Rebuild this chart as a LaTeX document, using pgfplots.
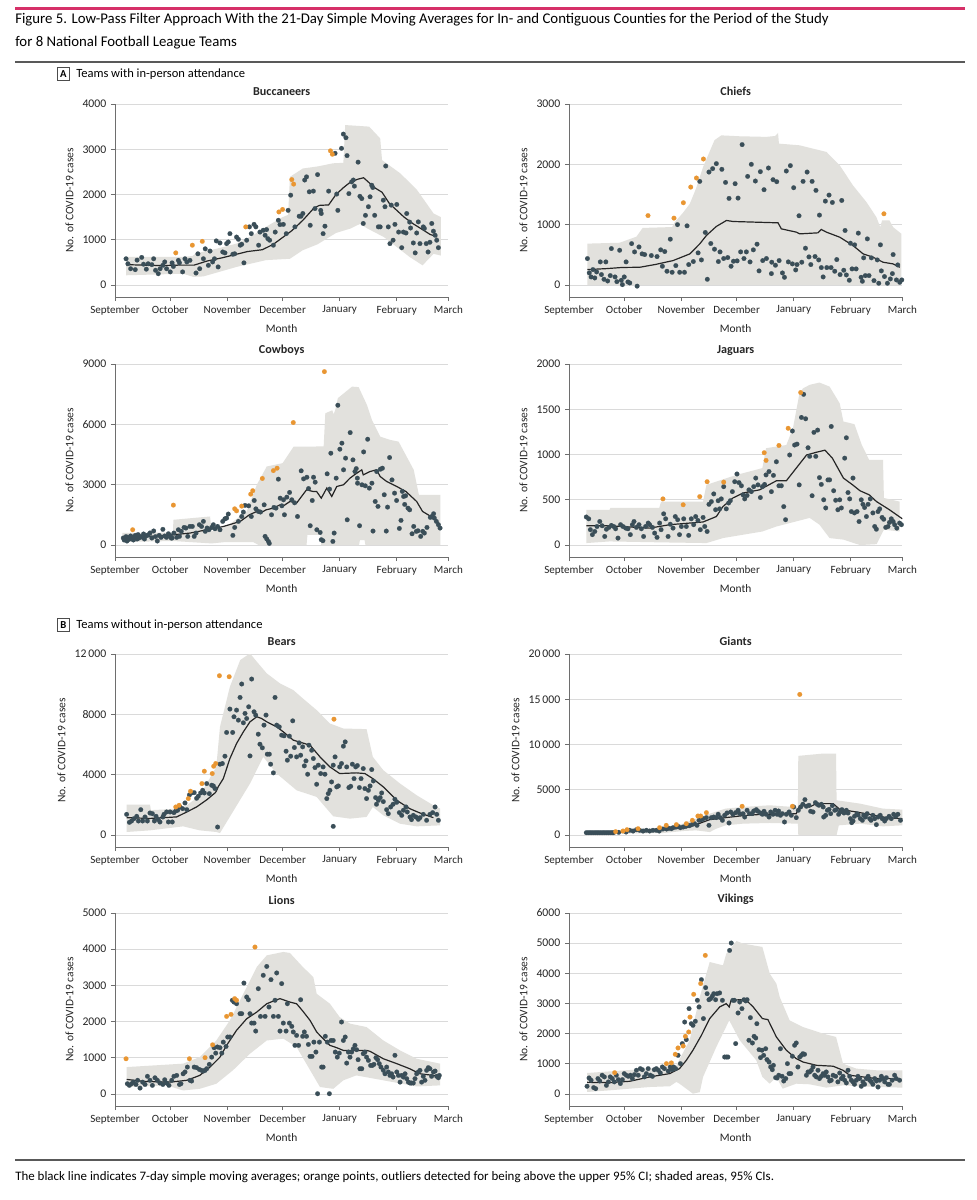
\documentclass[border=0pt]{standalone}
\usepackage{fontspec}
\setmainfont{Carlito}
\usepackage{pgfplots}
\pgfplotsset{compat=1.18}
\definecolor{pinkbar}{RGB}{214,48,104}
\definecolor{dotc}{RGB}{58,78,88}
\definecolor{orng}{RGB}{233,150,50}
\definecolor{shade}{RGB}{226,225,221}
\definecolor{gridc}{RGB}{218,218,218}
\definecolor{axc}{RGB}{110,110,110}
\newcommand\tk{\fontsize{8.3}{10}\selectfont}
\pgfplotsset{
 panel/.style={
   scale only axis, width=250pt, height=144.75pt,
   xmin=0, xmax=181,
   xtick={0,30,61,91,122,153,181},
   xticklabels={September,October,November,December,January,February,March},
   axis x line*=bottom, axis y line*=left,
   axis line style={axc, line width=0.7pt},
   ymajorgrids, grid style={gridc, line width=0.6pt},
   tick align=outside, major tick length=3pt,
   tick style={axc, line width=0.6pt},
   ticklabel style={font=\tk, text=black!85},
   yticklabel style={font=\fontsize{8.8}{10}\selectfont},
   scaled y ticks=false,
   xlabel=Month, ylabel={No. of COVID-19 cases},
   label style={font=\fontsize{8.6}{10}\selectfont, text=black!85},
   title style={font=\fontsize{9.1}{10}\selectfont\bfseries, text=black!85, yshift=-3pt},
   anchor=south west,
 },
 dots/.style={only marks, mark=*, mark size=1.75pt, color=dotc, mark options={fill=dotc, draw=dotc, line width=0.1pt}},
 odots/.style={only marks, mark=*, mark size=1.75pt, color=orng, mark options={fill=orng, draw=orng, line width=0.1pt}},
 ma/.style={no marks, line width=0.9pt, color=black!85},
 band/.style={fill=shade, draw=none, no marks},
}
\begin{document}
\begin{tikzpicture}
\useasboundingbox (0,0) rectangle (732pt,-900pt);
\fill[white] (0,0) rectangle (732pt,-900pt);
% header
\draw[pinkbar, line width=2.25pt] (11.25pt,-6pt) -- (723.75pt,-6pt);
\node[anchor=base west, inner sep=0, font=\fontsize{11.1}{13}\selectfont] at (11.25pt,-17.5pt) {Figure 5. Low-Pass Filter Approach With the 21-Day Simple Moving Averages for In- and Contiguous Counties for the Period of the Study};
\node[anchor=base west, inner sep=0, font=\fontsize{11.1}{13}\selectfont] at (11.25pt,-34.5pt) {for 8 National Football League Teams};
\draw[black!65, line width=1pt] (11.25pt,-46.5pt) -- (723.75pt,-46.5pt);
% section labels
\node[draw=black!70, line width=0.5pt, minimum size=9.5pt, inner sep=0, font=\fontsize{8}{9}\selectfont\bfseries] at (47.6pt,-55.5pt) {A};
\node[anchor=west, inner sep=0, font=\fontsize{9.4}{10}\selectfont] at (57pt,-55.5pt) {Teams with in-person attendance};
\node[draw=black!70, line width=0.5pt, minimum size=9.5pt, inner sep=0, font=\fontsize{8}{9}\selectfont\bfseries] at (47.6pt,-468.75pt) {B};
\node[anchor=west, inner sep=0, font=\fontsize{9.4}{10}\selectfont] at (57pt,-468.75pt) {Teams without in-person attendance};
% footer
\draw[black!65, line width=1pt] (11.25pt,-870pt) -- (723.75pt,-870pt);
\node[anchor=base west, inner sep=0, font=\fontsize{9.7}{11}\selectfont] at (11.25pt,-885pt) {The black line indicates 7-day simple moving averages; orange points, outliers detected for being above the upper 95\% CI; shaded areas, 95\% CIs.};

% ---------------- Buccaneers
\begin{axis}[panel, at={(86.25pt,-222.75pt)}, title=Buccaneers,
  ymin=-265, ymax=4000, ytick={0,1000,2000,3000,4000}, yticklabels={0,1000,2000,3000,4000}]
\addplot[band] coordinates {(6,620) (20,620) (37,620) (42,640) (44,700) (55,800) (66,915) (75,1100) (82,1285) (91,1500) (94,1550) (95,2390) (102,2575) (110,2620) (118.5,2690) (124,2700) (125,3535) (138,3500) (144,3240) (145,2760) (155,2465) (164,2100) (173,1580) (177,1500)
 (177,650) (173,690) (167,435) (160,620) (146,1060) (137,1250) (133,1350) (128,1250) (120,1150) (110,900) (102,770) (95,580) (82,550) (66,400) (48,190) (42.5,180) (37,250) (20,230) (6,215)};
\addplot[dots] coordinates {(6,580) (7,470) (8.5,360) (11,340) (12,550) (14.5,610) (15.5,460) (17,350) (18,470) (20,450) (21,580) (22,325) (23.5,250) (24.5,360) (26,435) (27,510) (28,360) (30,290) (31,490) (31.7,410) (34.4,545) (35,490) (36.7,290) (38,580) (39,510) (40.7,545) (44,265) (45,690) (46,360) (48,580) (49,800) (50.7,435) (51.6,750) (53,510) (54,580) (55,975) (56,400) (57,930) (58.5,730) (59.7,710) (60.6,915) (61.5,950) (62.4,1135) (64,680) (65,690) (66,1060) (67,1010) (68,880) (68.8,900) (70,490) (71.5,990) (73,1285) (74,1135) (75.5,1340) (76.5,1285) (78,880) (78.7,1170) (80.5,1210) (81.5,1100) (82.3,1225) (83,1025) (84,990) (86,880) (87,1170) (88.7,1430) (89.6,1335) (91.4,1340) (93,1135) (94,1650) (95.4,1985) (97.7,1285) (100,1520) (101,1520) (102,1580) (103,2320) (104,2390) (105.5,2060) (106,1320) (107.7,2075) (108.6,1690) (110,2440) (111.7,1650) (112,1580) (113,1135) (114,1300) (116,2075) (119.5,2910) (120.4,2010) (121,1650) (123,3020) (124,3335) (125.4,3255) (126,2860) (127,2020) (128.5,2280) (129.4,2320) (130,2185) (132,2715) (133,1960) (134,1910) (134.8,1360) (136,1540) (137.6,1730) (138.5,1950) (139.4,2205) (140,2155) (141,1540) (143,1285) (144,1285) (145.7,1875) (146.6,1730) (147,2630) (148.4,1285) (149.3,915) (150,1765) (151,990) (152,1340) (153,1780) (154,1170) (155.7,825) (156.6,1170) (158,1150) (158.4,1580) (160,1390) (160.5,1260) (162,930) (163,710) (163.8,1150) (164.7,1395) (165.6,915) (167.4,1285) (168,1250) (169,915) (170,730) (171,945) (172,1360) (172.9,1190) (173.8,1100) (174.7,990) (175.6,825)};
\addplot[odots] coordinates {(33,710) (42,880) (47.4,965) (71,1285) (89,1615) (91,1670) (96,2330) (97,2230) (117,2965) (118,2890)};
\addplot[ma] coordinates {(6,450) (15,440) (25,430) (35,440) (43,440) (50,530) (58,600) (66,680) (72,740) (80,780) (86,900) (91,1050) (96,1200) (102,1430) (108,1700) (111,1760) (116,1770) (120,2000) (124,2150) (128,2280) (132,2340) (135,2370) (138,2260) (141,2150) (145,2050) (149,1800) (153,1650) (157,1500) (162,1350) (166,1250) (171,1120) (175,1060)};
\end{axis}

% ---------------- Chiefs
\begin{axis}[panel, at={(426.75pt,-222.75pt)}, title=Chiefs,
  ymin=-200, ymax=3000, ytick={0,1000,2000,3000}, yticklabels={0,1000,2000,3000}]
\addplot[band] coordinates {(10,685) (27.5,700) (36.6,800) (40,945) (56,960) (57.4,1040) (62,1200) (65.6,1346) (69,1600) (72.8,1955) (79,2400) (82.7,2480) (92.7,2465) (107.2,2455) (112,2470) (113.5,2520) (114,2343) (125.3,2315) (132.5,2260) (139.8,2205) (147,1983) (154.2,1650) (161.5,1374) (166.9,1125) (169,958) (170,1070) (174,1070) (176,958) (180.5,848) (180.5,0) (10,0)};
\addplot[dots] coordinates {(10,437) (11,200) (12,133) (13,255) (14,116) (15,216) (17,382) (17.6,172) (19,94) (20,382) (21,66) (22.4,155) (23,603) (25,133) (26,55) (27.5,575) (28.4,77) (29,5) (30,133) (31,382) (32,50) (33,33) (34,685) (35.6,548) (37,-20) (38,630)
 (39.7,515) (41.1,504) (44.7,488) (47.8,471) (49.8,582) (52,554) (55,759) (50.7,310) (53.2,227) (56,210) (58,321) (60.1,210) (62.7,210) (65,338) (67.5,388) (70.1,532) (71.9,415) (75.1,94) (77,687) (79,593) (81.1,388) (82,548) (84,438) (86.2,454) (88,310) (89.3,393) (91.3,399) (93.2,548) (95,438) (96.3,548) (98.3,382) (100.1,582) (102.1,676) (103.2,233) (105.2,404) (107.2,438) (109.9,188) (110.1,377) (112.1,327) (114.1,404) (115.9,199) (117,127) (119.1,382) (121.3,349) (123.1,249) (123.8,338) (126.4,377) (128.4,609) (130.3,465) (131.3,338) (133.6,471) (135.6,415) (137,288) (138,133) (140,288) (142.3,288) (144.3,227) (145.4,421) (147.2,172) (149.2,244) (150.6,166) (152.2,78) (152.8,692) (153.7,266) (155.1,665) (155.9,266) (158.6,127) (159.3,61) (160,449) (160.9,155) (162.9,155) (164.2,449) (165.6,72) (167.4,415) (168.2,28) (169.6,233) (171.3,139) (172.9,28) (174.5,100) (175.6,188) (177.8,83) (178.5,332) (179.6,44) (180.7,83)
 (58.9,1000) (64.1,980) (71,1717) (74,870) (76,1872) (78,1928) (80,2011) (83,1917) (85,1700) (86.9,1435) (90.2,1679) (91.8,1440) (94,2327) (97,1800) (99,2000) (101.2,1723) (103.9,1878) (105.9,1579) (108.3,1939) (110.8,1745) (112.8,1712) (118,1889) (120.2,1978) (122,1612) (124.9,1147) (127.1,1717) (129.3,1872) (132,1717) (134.1,1568) (136,1158) (139.2,1390) (141.2,1490) (143,1368) (148.1,1401) (149.9,903) (157.1,859) (162,764) (169.1,665) (176,504)};
\addplot[odots] coordinates {(42.9,1150) (57,1108) (62.1,1363) (66.1,1623) (69.2,1773) (73,2088) (171,1180)};
\addplot[ma] coordinates {(10,255) (20,270) (29,290) (38.4,293) (47,340) (56.5,404) (65.6,515) (71,681) (74.6,820) (80,970) (85.5,1069) (89.1,1052) (113.5,1030) (115.3,930) (123.5,875) (125.3,847) (135.2,864) (137,920) (139.8,875) (147,792) (154.2,654) (159.7,515) (165.1,460) (170.5,377) (176,349) (179.6,293)};
\end{axis}

% ---------------- Cowboys
\begin{axis}[panel, at={(86.25pt,-417.75pt)}, title=Cowboys,
  ymin=-595, ymax=9000, ytick={0,3000,6000,9000}, yticklabels={0,3000,6000,9000}]
\addplot[band] coordinates {(4,600) (31.5,620) (31.7,1255) (51.6,1420) (52.5,680) (60.6,925) (71.5,1670) (77,2995) (82.4,3905) (91,4070) (97,4895) (113.3,4900) (114.2,6550) (118,6700) (118.7,6500) (119.6,6715) (121,7300) (128.7,7875) (132.3,7850) (136.8,6965) (139.5,6220) (144,5390) (149.5,5225) (154,5140) (162.2,3740) (165,2500) (176.7,2500)
 (176.7,0) (136,0) (135.5,250) (133,250) (132.5,0) (112,0) (111.5,500) (104.5,500) (104,0) (78,0) (75,150) (60,150) (52.5,80) (31.7,200) (4,150)};
\addplot[dots] coordinates {(4.5,350) (5,250) (5.5,300) (6,420) (6.5,200) (7,380) (7.5,280) (8,320) (8.5,450) (9,330) (10,250) (10.5,400) (11,480) (12,300) (12.5,520) (13,350) (14,420) (15,380) (15.5,550) (16,300) (17,460) (18,500) (19,600) (20,350) (21,700) (22,420) (23,200) (24,480) (25,380) (26,780) (27,450) (28,380) (29,560) (30,470) (30.5,350)
 (31,350) (32,595) (33.5,380) (34.4,760) (35,430) (36,680) (37.5,875) (38.5,845) (39.5,430) (40.7,925) (42,925) (43,430) (44,595) (45.8,1010) (47,925) (48,1175) (49,680) (50,845) (51,760) (52.5,875) (53.4,1010) (54.3,810) (55.7,925) (57,760) (58.5,1175) (59.7,1305)
 (60.6,1340) (61.5,1540) (64,480) (65,875) (67,1175) (68.8,1420) (69.7,1640) (70.6,1970) (72.6,1950) (74,1420) (75.6,2215) (76.5,1800) (77.8,1670) (79,1640) (81,2000) (81.5,430) (82.4,300) (83.3,180) (83.8,80) (85,1505) (86.3,1870) (87.4,1835) (88.7,3275)
 (89.7,2330) (90.6,1950) (91.5,2250) (92,1505) (93.3,2380) (94.8,2615) (96,2250) (97.5,2100) (99.1,1420) (101.1,3690) (102.4,3290) (104.2,3370) (105.1,2810) (106,960) (107.1,2215) (107.8,3370) (108.7,3125) (109.6,760) (111.4,625) (112,265) (112.9,215) (115.2,3540) (116.5,2780) (117.2,4565) (118.3,180) (119,595) (120.1,3325) (121,6950) (122.1,4765) (123.2,5065) (124.1,3740) (125.2,4320) (126.1,1255) (127.7,5590) (129.2,4235) (130.3,3655) (131,3800) (131.6,3325) (131.7,3075) (132.8,960) (134.1,2995) (135,4630) (135.9,2945) (137.2,5260) (138.1,2830) (139.5,3075) (140.1,695) (141.3,2165) (142.1,3655) (142.8,1920) (144.1,3770) (145.2,3820) (146.2,2500) (147.3,695) (148,1885) (149.1,4350) (150.4,3240) (151.8,2580) (152.9,2215) (154.4,825) (155.3,1225) (156,2665) (156.7,2415) (157.3,2020) (157.8,2450) (159.1,1835) (160,1750) (161.3,560) (162.2,925) (163.6,680) (164.5,710) (166,430) (167.1,680) (168,595) (169.4,875) (171.2,1375) (172.1,1420) (173,1555) (173.4,1340) (174.5,1175) (175.6,1010) (176.5,845)};
\addplot[odots] coordinates {(9.6,760) (31.7,1985) (65,1800) (66,1700) (68.8,1935) (73.7,2530) (74.8,2700) (80,3310) (86,3700) (88,3820) (96.8,6090) (113.7,8620)};
\addplot[ma] coordinates {(5,350) (19,430) (31.7,510) (40.7,595) (50,760) (59,925) (68,1175) (73,1505) (77,1670) (79,1590) (82,1750) (86,1835) (89.6,2000) (91,1920) (95,2165) (98.6,2085) (104,2745) (107.7,2660) (109.5,2660) (112,2330) (115,2830) (117.7,2415) (120.4,2910) (124,2995) (127.6,3325) (130,3490) (134,3740) (134.8,3490) (138.5,3655) (142,3740) (144,3405) (147.5,3160) (153,2910) (158,2660) (163.8,2165) (167,1670) (173,1340) (176.5,1010)};
\end{axis}

% ---------------- Jaguars
\begin{axis}[panel, at={(426.75pt,-417.75pt)}, title=Jaguars,
  ymin=-132, ymax=2000, ytick={0,500,1000,1500,2000}, yticklabels={0,500,1000,1500,2000}]
\addplot[band] coordinates {(9.4,390) (22,390) (22.5,410) (49,410) (50,480) (72.8,480) (74.6,665) (91,775) (105,850) (107,1070) (118,1105) (121.6,1290) (125,1660) (127,1730) (130.7,1770) (136,1795) (141.5,1750) (147,1565) (149,1365) (155,1335) (159,1105) (163,940) (170.5,940) (171,520) (179.5,480)
 (179.5,150) (171,170) (167,10) (158,0) (149,60) (141.5,77) (136,225) (130.7,300) (112.6,205) (105,150) (83.6,77) (74.6,22) (49,30) (22,40) (9.4,22)};
\addplot[dots] coordinates {(9.4,310) (10.7,290) (11.6,170) (12.7,115) (14,150) (15.2,205) (16.7,260) (18,213) (19.4,95) (20.3,175) (21.7,195) (23,217) (24.3,205) (25.3,180) (26.6,77) (28,225) (29.3,205) (30.8,187) (32,180) (33.3,115) (34.4,225) (35.3,260) (36.6,195) (38,225) (39.3,180) (40.5,95) (41.6,205) (43,243) (43.8,225) (45.3,195) (46.5,132) (47.8,85) (49.2,243) (50,170) (51.4,345) (52.5,290) (53.8,95) (55,230) (56.5,187) (57.7,315) (59,280) (60,115) (61,205) (62.3,290) (63.7,205) (65,107) (66.4,290) (67.7,225) (68.8,315) (70,272) (71.3,170) (72.8,305) (73.7,205) (75,150) (76,450) (77.3,480) (78.6,565) (79.6,390) (81,490) (81.8,400) (82.7,510) (84,645) (85.4,400) (86.7,465) (87.6,490) (88.7,590) (90,700) (91.2,785) (92.3,690) (93.6,655) (94.5,555) (95.4,510) (96.7,548) (97.7,610) (99,590) (100.3,645) (101.4,740) (102.6,665) (103.9,525) (105,645) (106.2,670) (107,775) (108.6,812) (109.9,590) (111,770) (112.6,920) (114,655) (115.3,655) (116.6,425) (117.6,280) (119.8,995) (121.3,1260) (122.5,1105) (123.8,1115) (125,665) (126.2,1410) (127.4,1665) (128.5,1395) (129.8,1075) (130.7,980) (132,545) (133,1245) (134,980) (135,1270) (136,745) (137,670) (138.3,500) (139.4,410) (140.6,720) (141.5,720) (142.4,1310) (143.7,600) (144.8,495) (146,390) (147,500) (147.9,410) (149.7,960) (150.6,1185) (151.5,580) (152.4,510) (153.3,370) (154.2,740) (155,355) (156.4,370) (157.5,260) (158.7,500) (159.6,450) (160.5,415) (161.5,315) (162.4,450) (163.6,510) (165,355) (166,205) (166.9,175) (167.8,370) (168.7,400) (170,305) (170.9,285) (172,195) (173.2,205) (174,250) (175,290) (176,260) (176.8,225) (178,187) (179.5,243) (180.5,225)};
\addplot[odots] coordinates {(51,510) (62,445) (71,535) (75,700) (84,695) (106,1020) (107,935) (114,1100) (119,1290) (125.8,1685)};
\addplot[ma] coordinates {(9.4,213) (22,213) (43.8,187) (54.7,225) (72.8,255) (80,315) (83.6,425) (89,520) (94.5,575) (103.5,610) (112.6,710) (118,710) (123.4,850) (129,995) (134.3,1025) (139,1048) (143,960) (149,740) (154,665) (158,600) (163,555) (167,480) (174,390) (181,290)};
\end{axis}

% ---------------- Bears
\begin{axis}[panel, at={(86.25pt,-635.25pt)}, title=Bears,
  ymin=-795, ymax=12000, ytick={0,4000,8000,12000}, yticklabels={0,4000,8000,12\,000}]
\addplot[band] coordinates {(6.3,2015) (19,2015) (19.5,1650) (28,1700) (37,1800) (46,2600) (55,4515) (57,7170) (62.4,9830) (68,11600) (73.3,12040) (77,11490) (82.4,10715) (89.6,10050) (96.8,9610) (102,9055) (109.5,8280) (116.7,7395) (124,7060) (136.6,7020) (140,5180) (145.7,4295) (154.8,3410) (163.8,2635) (172.9,1970) (176.5,1750)
 (176.5,640) (163.8,575) (154.8,750) (145.7,1305) (140,1860) (136.6,1200) (127.6,1085) (118.5,1240) (109.5,2525) (98.6,2965) (87.8,4075) (80.5,5180) (73.3,3410) (57,130) (55,200) (46,310) (37,575) (19,310) (6.3,200)};
\addplot[dots] coordinates {(6.3,1370) (7.8,840) (9,930) (10.3,1085) (11.8,1240) (12.7,930) (14,1680) (15,930) (16.3,1195) (17.6,930) (19,1460) (20.3,1415) (21.4,930) (22.3,1240) (23.5,1020) (24.4,865) (26,1195) (26.6,1370) (28,1530) (29,865) (29.9,1530) (31.1,865) (32,1485) (33,1595) (34,1640) (35.3,1860) (36.7,1750) (38,2125) (39,1680) (40.4,2655) (41.6,2790) (43,2810) (44.3,2435) (45.2,2570) (46.5,2790) (47.6,2965) (48.5,2790) (49.8,3410) (51.2,2745) (52.5,3300) (53.4,3255) (54.3,3080) (55.7,530) (57,4695) (58.3,4740) (59.7,5225) (60.6,6800) (62.4,8350) (63.9,6800) (64.6,7840) (66,8280) (67,7615) (67.9,9120) (68.8,10010) (69.7,7440) (70.6,8060) (71.5,7725) (72.6,8500) (73.3,5245) (74.2,10340) (75.5,8170) (76.4,7950) (77.8,6685) (78.7,6020) (80,5780) (80.9,7285) (82,7950) (82.7,5360) (83.8,5360) (84.5,4695) (86,4120) (86.9,9120) (87.8,7285) (89.2,7170) (90.5,6620) (91.8,6575) (92.9,5555) (93.6,4960) (94.7,6555) (95.4,5225) (96.5,7570) (97.4,5800) (98.6,5180) (100,6110) (100.8,5290) (101.9,5845) (102.8,4585) (103.7,4915) (104.6,4030) (105.3,5955) (106.8,5620) (107.7,5070) (108.6,4470) (109.5,3365) (110.4,4630) (111.7,4075) (113,4515) (114,4030) (115,2415) (115.8,2745) (116.7,2965) (117.6,3520) (118.5,4630) (119.5,5180) (118.5,575) (120.4,3190) (121.3,3255) (122,4515) (123,4740) (124,5890) (125,6175) (125.8,4515) (127,3145) (128,3230) (128.9,4695) (129.8,3740) (130.7,4515) (131.6,4605) (132.7,3145) (133.6,3740) (134.8,4405) (135.7,3080) (136.6,2415) (137.6,2965) (138.5,3255) (139.4,4340) (140.3,3585) (141.5,2480) (142,2040) (143,2300) (144,2480) (144.8,2790) (145.7,2215) (147.5,1680) (148.4,1415) (149.7,1860) (151,2040) (152,2370) (153,2170) (154.4,1485) (155.7,1305) (156.6,1640) (158,1860) (158.7,1530) (160.2,1195) (161,1020) (162,1305) (163.4,1195) (164.7,1040) (165.6,1150) (167.4,1370) (169.2,975) (171,1370) (172.5,1485) (173.8,1860) (174.7,1370) (175.6,975)};
\addplot[odots] coordinates {(33,1860) (34.8,1970) (39.8,2415) (41,2900) (47.2,3410) (48.5,4230) (52.8,4075) (53.6,4560) (54.7,4740) (56.7,10560) (62,10495) (118.9,7680)};
\addplot[ma] coordinates {(6.3,1150) (19,1100) (33.5,1200) (39,1530) (44.3,1860) (50,2350) (54.3,2790) (55,2900) (56,3190) (58.8,3740) (62.4,5070) (66,6065) (69.7,6840) (73.3,7505) (77,7840) (79.6,7725) (82.4,7505) (87.8,7170) (91.4,6840) (96.8,6290) (105.9,5955) (111.3,5180) (116.7,4515) (122,4075) (131,4120) (135.7,4075) (140,3740) (145.7,3190) (153,2300) (160,1750) (165.6,1460) (172.9,1150)};
\end{axis}

% ---------------- Giants
\begin{axis}[panel, at={(426.75pt,-635.25pt)}, title=Giants,
  ymin=-1325, ymax=20000, ytick={0,5000,10000,15000,20000}, yticklabels={0,5000,10\,000,15\,000,20\,000}]
\addplot[band] coordinates {(9.4,370) (27,370) (29,520) (51,810) (62,1255) (69,1810) (76.4,2360) (85,2915) (94.5,3100) (109,3285) (121.6,3100) (124.3,3100) (124.5,8745) (138,9000) (145,9000) (145.3,3840) (158,3470) (170.5,2915) (181,2805)
 (181,1070) (170.5,960) (158,1255) (146.5,1070) (145.3,0) (124.5,0) (124.3,1255) (109,1330) (94.5,1255) (85,1070) (80,700) (76.4,330) (69,515) (62,440) (51,220) (27,150) (9.4,150)};
\addplot[dots] coordinates {(9.4,260) (10.4,260) (11.4,260) (12.4,260) (13.4,260) (14.4,260) (15.4,260) (16.4,260) (17.4,260) (18.4,260) (19.4,260) (20.4,260) (21.4,260) (22.4,260) (23.4,260) (24.2,260) (27,295) (31,330) (33,520) (34.8,440) (36.6,590) (38.4,520) (40.2,440) (42,520) (43.8,440) (45.6,520) (47.4,520) (49,440) (51,665) (53,665) (54.3,740) (55.6,700) (56.5,810) (58,885) (59.2,960) (60.5,810) (62,885) (63.4,960) (64.6,1070) (65.5,1035) (67,1180) (68.2,1255) (69.5,1070) (70.6,1625) (72,1700) (73,1810) (74.6,1920) (76,1070) (77.3,1920) (78.6,1990) (80,1920) (81,2290) (82.2,1920) (83.3,1625) (84.5,2180) (85.8,2435) (86.9,1330) (87.8,2545) (89,2290) (90.5,2470) (91.8,2730) (92.7,2360) (94.5,2360) (95.4,1990) (96.7,2730) (98,2360) (99.4,2360) (100.3,2655) (101.7,2805) (102.6,2620) (104,2435) (105,2290) (105.9,2620) (107,2290) (108.6,1990) (109.5,2545) (110.8,2290) (111.9,2730) (113,2290) (113.8,2655) (114.8,2180) (115.8,2360) (117,1440) (118,2290) (119.5,2545) (120.7,2180) (122,3100) (123.4,1920) (124.5,2730) (125.8,3100) (127,3395) (128.1,3910) (128.9,3175) (130.3,3285) (131.2,2620) (132.5,2545) (133.8,3580) (134.8,3395) (135.7,3285) (137,3395) (138,3100) (138.3,1990) (139.4,2180) (140.3,2730) (141.2,2840) (142.1,2360) (143,3250) (144.3,2730) (145.2,2805) (146.4,2290) (147.3,2545) (148.2,2805) (149.3,2435) (150.6,2730) (151.5,2435) (152.8,1810) (153.5,1365) (154.2,1550) (155,2065) (156.4,2360) (157,2215) (158.2,1810) (159.3,1625) (160,2180) (161,1990) (161.9,2360) (163.3,1810) (164,1625) (165,2180) (166,1810) (166.9,1145) (167.8,1990) (169,2180) (170.1,1810) (171.4,1550) (172.3,1810) (173.8,2065) (175,1810) (176.3,2290) (177.4,2065) (178.6,2290) (180,1625)};
\addplot[odots] coordinates {(25.3,370) (29.3,440) (31.5,590) (37.5,700) (49.2,810) (52.8,1070) (58.3,1145) (63.7,1255) (67,1625) (70,2100) (71.5,2100) (74.6,2470) (94,3175) (121.3,3175) (125.3,15535)};
\addplot[ma] coordinates {(9.4,260) (24,260) (31,405) (43.8,520) (52.8,630) (63.7,810) (69,1145) (76.4,1700) (85,1920) (94.5,2140) (105,2290) (116,2290) (123.4,2360) (125,3100) (127,3285) (130.7,3100) (134.3,3470) (143.4,3470) (147,2840) (156,2545) (163,2290) (172.3,1920) (181,1810)};
\end{axis}

% ---------------- Lions
\begin{axis}[panel, at={(86.25pt,-829.5pt)}, title=Lions,
  ymin=-330, ymax=5000, ytick={0,1000,2000,3000,4000,5000}, yticklabels={0,1000,2000,3000,4000,5000}]
\addplot[band] coordinates {(6.3,745) (37,840) (46,1020) (55,1480) (62.4,2035) (69.7,2770) (77,3510) (82.4,3830) (91.4,3925) (95,3895) (102,3510) (107.7,3230) (109.5,2770) (116.7,2495) (122,2125) (127.6,1945) (136.6,1850) (145.7,1480) (154.8,1205) (163.8,975) (176.5,840)
 (176.5,240) (163.8,210) (145.7,380) (131,515) (124,380) (118.5,145) (111.3,195) (106,655) (98.6,1300) (91.4,1530) (82.4,1480) (73.3,1115) (64,655) (55,285) (46,145) (37,100) (28,240) (6.3,195)};
\addplot[dots] coordinates {(6.7,285) (7.8,240) (9,285) (10,330) (11.4,265) (12.3,380) (13.6,165) (15,330) (16.3,265) (17.6,490) (19,380) (20.3,240) (21.7,450) (23,380) (24.4,305) (26,265) (27,395) (28,305) (29.3,240) (30.8,380) (32,490) (33.5,515) (35,265) (35.8,285) (37,560) (38,610) (39.3,745) (40.7,380) (41.6,360) (43,745) (44.3,730) (45.8,680) (47,655) (48,635) (48.9,655) (49.8,700) (51.2,820) (52.5,1020) (53.8,1280) (54.7,1130) (55.6,1300) (57,1280) (58,1130) (58.8,1435) (60.3,1315) (61.2,1575) (62.4,1575) (63.7,2590) (64.6,2540) (66,2495) (67.9,2220) (68.8,2220) (70,3065) (71.5,2680) (72.4,2605) (73.3,2220) (74.2,1960) (75.5,1960) (76.4,1740) (77.8,2910) (79,2145) (80.5,3280) (81.5,2145) (82.4,3525) (83.6,2405) (84.7,3160) (86,2145) (86.9,2590) (87.8,3345) (88.7,2145) (89.6,1740) (90.5,3050) (91.4,1960) (92.9,1740) (93.6,2495) (94.7,1960) (96,1870) (96.8,1715) (97.7,1345) (98.6,1620) (99.7,1345) (100.8,2605) (101.9,1595) (102.8,1715) (104,1595) (105,1370) (105.9,1040) (107,1040) (108,1435) (109.1,1160) (110,10) (111,1435) (112.2,745) (113,745) (114.2,1595) (115.3,1435) (116.4,10) (117.3,1480) (118.5,1480) (119.6,1160) (120.7,1020) (121.8,1130) (123,1990) (124,1480) (125,1575) (125.8,855) (126.7,1160) (127.6,1020) (128.5,1160) (129.4,1250) (130.3,1345) (131.2,1225) (132,950) (133,700) (134,700) (134.8,1115) (135.7,1160) (136.6,1020) (137.6,930) (138.8,790) (139.7,790) (140.6,820) (141.7,1005) (142.6,950) (143.5,840) (144.4,745) (145.7,655) (146.6,560) (147.5,745) (148.4,610) (149.3,515) (150.2,560) (151,470) (152,1070) (153,610) (153.9,515) (154.8,330) (155.7,515) (156.6,470) (157.5,560) (158.4,425) (159.3,330) (160.2,305) (161,305) (162,305) (162.9,425) (163.8,560) (164.7,610) (165.6,655) (166.5,330) (167.4,490) (168.3,380) (169.2,655) (170.1,730) (171,700) (171.9,490) (172.9,610) (173.8,635) (174.7,490) (175.6,450) (176.1,515)};
\addplot[odots] coordinates {(6,975) (40.4,975) (48.9,1005) (53,1360) (60.6,2145) (63,2200) (65,2635) (66,2590) (76,4060)};
\addplot[ma] coordinates {(6.3,405) (15.4,350) (30,330) (39,380) (46,515) (51.6,745) (57,1020) (60.6,1345) (66,1760) (71.5,2080) (77,2265) (82.4,2495) (87.8,2605) (89.6,2635) (95,2540) (98.6,2495) (102,2290) (105.9,2035) (109.5,1715) (113,1530) (116.7,1345) (120.4,1280) (124,1205) (129.4,1205) (136.6,1205) (138.5,1180) (145.7,975) (153,840) (160,700) (165.6,560) (172.9,515) (176.5,515)};
\end{axis}

% ---------------- Vikings
\begin{axis}[panel, at={(426.75pt,-829.5pt)}, title=Vikings,
  ymin=-400, ymax=6000, ytick={0,1000,2000,3000,4000,5000,6000}, yticklabels={0,1000,2000,3000,4000,5000,6000}]
\addplot[band] coordinates {(9.8,695) (43.8,840) (58.3,950) (65.5,1780) (71,3215) (76.4,4375) (83.6,4265) (85.4,4650) (91,5070) (94.5,4985) (105,4875) (109,3990) (112.6,3660) (114.4,3215) (119.8,2440) (127,2220) (138,2000) (145,1890) (148.8,1005) (156,840) (166.9,785) (181,785)
 (181,210) (166.9,230) (148.8,285) (139.7,210) (130.7,320) (123.4,340) (116,175) (112.6,565) (109,340) (105,565) (101.7,1115) (92.7,1780) (87,2440) (80,1560) (72.8,565) (71,60) (67.3,10) (60,340) (58.3,400) (54.7,255) (43.8,230) (22,120) (9.8,65)};
\addplot[dots] coordinates {(9.8,255) (10.9,530) (12,455) (13.4,210) (14.5,175) (15.7,510) (16.7,430) (18,620) (19.2,565) (20.3,285) (21.4,400) (22.4,565) (23.5,510) (24.6,400) (25.7,620) (26.8,475) (27.9,345) (29,475) (30,675) (31.1,620) (32.2,585) (33.3,620) (34.4,510) (35.5,640) (36.6,785) (37.6,620) (38.7,840) (39.8,805) (40.9,565) (42,675) (43,840) (44.2,620) (45.3,585) (46.3,805) (47.4,840) (48.5,785) (49.6,695) (50.7,895) (51.8,840) (53.9,760) (55,895) (56,805) (56.8,895) (57.9,840) (59.2,1280) (60.5,1005) (61.5,1670) (62.8,2385) (63.7,1800) (65.2,2830) (66.4,2330) (67.3,2275) (68.6,2410) (69.7,3105) (70.6,2885) (71.9,3790) (73,2500) (74.2,3525) (75,3325) (76,3125) (76.9,3160) (77.8,3240) (78.6,3325) (79.6,3125) (80.4,3325) (81.8,3350) (83.3,3105) (84.5,1225) (85.4,1225) (86.3,1225) (87.2,4760) (88.1,5005) (89,3105) (89.8,3105) (90.5,1670) (91.8,2685) (92.7,3050) (93.9,2830) (95,3125) (96,3085) (96.7,3125) (97.7,1780) (98.5,2530) (99.6,1690) (100.5,1910) (101.4,1855) (102,2330) (103.2,1470) (104,1205) (104.8,1450) (105.7,1280) (106.8,1500) (107.5,1140) (108.6,1060) (109.5,895) (110.4,805) (111,950) (112.2,540) (113,530) (113.9,620) (114.8,1500) (115.7,585) (116.6,430) (117.7,510) (118.6,1005) (119.5,675) (120.4,675) (121.3,1250) (122.5,1615) (123.4,1690) (124.3,895) (125.3,1225) (126.2,1280) (127,1335) (127.9,1315) (128.9,620) (129.8,730) (130.7,730) (131.6,785) (132.5,895) (133.4,620) (134.3,565) (135.2,785) (136,510) (137,585) (138,675) (138.8,620) (139.7,730) (140.6,565) (141.5,430) (142.4,455) (143.4,620) (144.8,585) (146,400) (147,695) (147.9,510) (148.8,585) (149.7,455) (150.6,365) (151.5,785) (152.4,585) (153.3,455) (154.2,400) (155,320) (156,455) (156.9,585) (157.8,510) (158.7,255) (159.6,400) (160.5,320) (161.5,510) (162.4,585) (163.3,455) (164.2,400) (165,320) (166,510) (166.9,430) (167.8,230) (168.7,455) (169.6,585) (170.5,510) (171.4,400) (172.3,540) (173.2,320) (174,320) (175.5,455) (176.8,620) (177.7,510) (179.5,455)};
\addplot[odots] coordinates {(24.8,705) (52.9,1005) (55.6,1030) (57.7,1315) (59.2,1525) (62,1590) (63.2,1910) (65,2055) (65.7,2550) (67.7,3305) (71.5,3660) (74,4595)};
\addplot[ma] coordinates {(9.8,385) (22,375) (33,420) (43.8,565) (54.7,675) (60,840) (63.7,1115) (67.3,1450) (71.9,1945) (76.4,2500) (81.8,2885) (85.4,2995) (87,2885) (88,3105) (92.7,3125) (96.3,3105) (100,2885) (105,2500) (108,2465) (112.6,1890) (118,1450) (123.4,1170) (127,1060) (134.3,950) (143.4,920) (148.8,785) (152.4,620) (159.6,565) (166.9,510) (174,510) (180.5,455)};
\end{axis}
\end{tikzpicture}
\end{document}
